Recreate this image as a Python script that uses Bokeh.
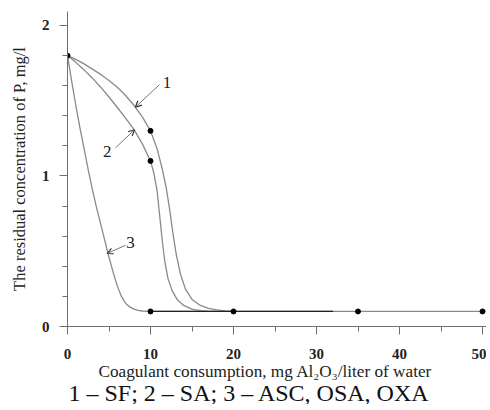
from bokeh.plotting import figure
from bokeh.models import Range1d, FixedTicker, Arrow, OpenHead, Label, Title
from bokeh.embed import file_html
from bokeh.resources import INLINE

# ---- data ----
x1 = [0, 1, 2, 3, 4, 5, 6, 7, 8, 9, 10, 10.8, 11.4, 11.9, 12.3, 12.7, 13.1, 13.6, 14.2, 15, 16, 17, 18, 19, 20]
y1 = [1.80, 1.775, 1.745, 1.71, 1.675, 1.635, 1.59, 1.535, 1.47, 1.395, 1.30, 1.18, 1.05, 0.92, 0.78, 0.62, 0.48, 0.35, 0.25, 0.18, 0.14, 0.12, 0.11, 0.103, 0.10]

x2 = [0, 1, 2, 3, 4, 5, 6, 7, 8, 9, 10, 10.4, 10.8, 11.1, 11.4, 11.7, 12.1, 12.6, 13.2, 14, 15, 16, 17, 18]
y2 = [1.80, 1.755, 1.705, 1.65, 1.59, 1.525, 1.455, 1.385, 1.31, 1.215, 1.10, 1.02, 0.90, 0.74, 0.58, 0.44, 0.32, 0.24, 0.18, 0.14, 0.115, 0.105, 0.10, 0.10]

x3 = [0, 0.5, 1, 1.5, 2, 2.5, 3, 3.5, 4, 4.5, 5, 5.5, 6, 6.5, 7, 7.5, 8, 8.5, 9, 10, 20, 35, 50]
y3 = [1.80, 1.63, 1.47, 1.32, 1.18, 1.04, 0.91, 0.79, 0.68, 0.57, 0.46, 0.36, 0.27, 0.20, 0.155, 0.13, 0.115, 0.107, 0.103, 0.10, 0.10, 0.10, 0.10]

# overlapping dark stretch of the plateau
xdark = [10, 32]
ydark = [0.10, 0.10]

# experimental points
xp = [0, 10, 10, 10, 20, 35, 50]
yp = [1.80, 1.30, 1.10, 0.10, 0.10, 0.10, 0.10]

# curve labels and their arrows
lab_text = ["1", "2", "3"]
lab_x = [12.0, 4.78, 7.6]
lab_y = [1.62, 1.16, 0.56]
arr_x0 = [11.08, 5.78, 6.99]
arr_y0 = [1.607, 1.187, 0.54]
arr_x1 = [8.19, 8.07, 4.78]
arr_y1 = [1.458, 1.307, 0.485]

x_ticks = [0, 10, 20, 30, 40, 50]
x_minor = [5, 15, 25, 35, 45]
y_ticks = [0, 1, 2]
y_minor = [0.2, 0.4, 0.6, 0.8, 1.2, 1.4, 1.6, 1.8]

x_label = "Coagulant consumption, mg Al\u2082O\u2083/liter of water"
y_label = "The residual concentration of P, mg/l"
caption = "1 \u2013 SF; 2 \u2013 SA; 3 \u2013 ASC, OSA, OXA"

FONT = "Liberation Serif"
GRAY = "#8a8a8a"
AX = "#6f6f6f"

p = figure(width=486, height=404, output_backend="svg", toolbar_location=None,
           x_range=Range1d(0, 50.48), y_range=Range1d(0, 2.093),
           min_border_left=67, min_border_right=0, min_border_top=11, min_border_bottom=0)
p.outline_line_color = None
p.xgrid.visible = False
p.ygrid.visible = False

for ax in (p.xaxis[0], p.yaxis[0]):
    ax.axis_line_color = AX
    ax.major_tick_line_color = AX
    ax.minor_tick_line_color = AX
    ax.major_tick_out = 8
    ax.major_tick_in = 0
    ax.minor_tick_out = 5
    ax.minor_tick_in = 0
    ax.major_label_text_font = FONT
    ax.major_label_text_font_size = "15px"
    ax.major_label_text_font_style = "bold"
    ax.major_label_text_color = "#222222"
    ax.axis_label_text_font = FONT
    ax.axis_label_text_font_style = "normal"
    ax.axis_label_text_color = "#222222"

p.yaxis.axis_label_text_font_size = "16.5px"
p.xaxis.ticker = FixedTicker(ticks=x_ticks, minor_ticks=x_minor)
p.yaxis.ticker = FixedTicker(ticks=y_ticks, minor_ticks=y_minor)
p.yaxis.axis_label = y_label
p.xaxis.major_label_standoff = 14
p.yaxis.major_label_standoff = 10
p.yaxis.axis_label_standoff = 10

p.line(x1, y1, line_color=GRAY, line_width=1.3)
p.line(x2, y2, line_color=GRAY, line_width=1.3)
p.line(x3, y3, line_color=GRAY, line_width=1.3)
p.line(xdark, ydark, line_color="#222222", line_width=1.3)
p.scatter(xp, yp, size=5, color="black")

for i in range(3):
    p.add_layout(Arrow(x_start=arr_x0[i], y_start=arr_y0[i], x_end=arr_x1[i], y_end=arr_y1[i],
                       line_color="#777777", line_width=1,
                       end=OpenHead(size=6, line_color="#333333", line_width=1.2)))
    p.add_layout(Label(x=lab_x[i], y=lab_y[i], text=lab_text[i], text_font=FONT,
                       text_font_size="17px", text_align="center", text_baseline="middle",
                       text_color="#222222"))

# x-axis title and caption as titles below the axis (left-aligned with offsets)
p.add_layout(Title(text=x_label, align="left", offset=31, standoff=-4, text_font=FONT,
                   text_font_size="17.2px", text_font_style="normal", text_color="#222222"), "below")
p.add_layout(Title(text=caption, align="left", offset=1, standoff=-2, text_font=FONT,
                   text_font_size="24px", text_font_style="normal", text_color="#111111"), "below")

open("out.html", "w").write(file_html(p, INLINE))
